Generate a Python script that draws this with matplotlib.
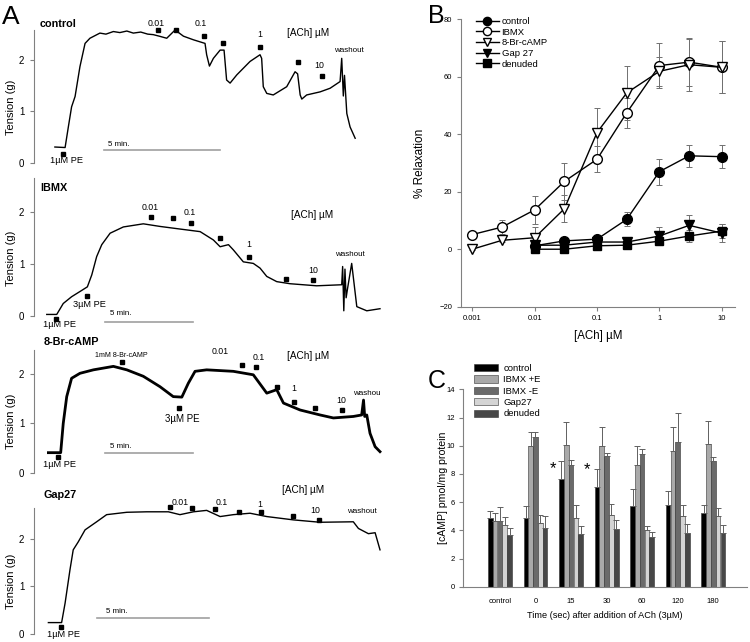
import matplotlib.pyplot as plt
import numpy as np

plt.rcParams['font.family'] = ['Liberation Sans', 'DejaVu Sans']

# ---------------- panel A: tension traces (time in min, tension in g)
ctrl_t = [0.9, 1.34, 1.48, 1.62, 1.77, 1.98, 2.2, 2.41, 2.84, 3.1, 3.42, 3.7, 4.0, 4.28, 4.6, 4.9,
          5.14, 5.4, 5.72, 6.08, 6.44, 6.87, 7.37, 7.44, 7.56, 7.73, 8.02, 8.19, 8.30, 8.45, 8.74,
          9.31, 9.74, 9.81, 9.88, 10.03, 10.31, 10.89, 11.25, 11.36, 11.47, 11.54, 11.75, 12.33,
          12.76, 13.19, 13.26, 13.33, 13.38, 13.48, 13.62, 13.84]
ctrl_g = [0.31, 0.30, 0.70, 1.09, 1.29, 1.87, 2.32, 2.42, 2.52, 2.50, 2.55, 2.53, 2.56, 2.52, 2.54, 2.50,
          2.49, 2.46, 2.42, 2.58, 2.46, 2.39, 2.32, 2.10, 1.88, 2.03, 2.19, 2.19, 1.61, 1.55, 1.71,
          1.97, 2.10, 2.03, 1.48, 1.35, 1.32, 1.48, 1.77, 1.73, 1.32, 1.24, 1.32, 1.38,
          1.45, 1.58, 2.03, 1.30, 1.70, 0.96, 0.70, 0.48]
ctrl_ach_t = [5.33, 6.12, 7.33, 8.16, 9.75, 11.37, 12.43]
ctrl_ach_g = [2.58, 2.58, 2.47, 2.32, 2.25, 1.95, 1.68]
ctrl_pe_t = [1.26]
ctrl_pe_g = [0.17]

ibmx_t = [0.55, 0.98, 1.26, 1.62, 1.98, 2.30, 2.49, 2.70, 2.92, 3.28, 3.85, 4.71, 5.43, 6.29, 7.16,
          7.73, 8.02, 8.38, 8.59, 9.02, 9.45, 9.74, 10.03, 10.46, 11.03, 12.18, 13.26, 13.30, 13.35,
          13.40, 13.45, 13.52, 13.69, 13.91, 14.34, 14.91]
ibmx_g = [0.03, 0.03, 0.24, 0.37, 0.47, 0.56, 0.79, 1.14, 1.37, 1.59, 1.71, 1.77, 1.72, 1.67, 1.62,
          1.46, 1.33, 1.37, 1.27, 1.04, 1.01, 0.92, 0.76, 0.66, 0.62, 0.58, 0.60, 0.95, 0.10,
          0.90, 0.35, 0.55, 1.01, 0.18, 0.10, 0.14]
ibmx_ach_t = [5.03, 5.98, 6.77, 8.02, 9.28, 10.86, 12.04]
ibmx_ach_g = [1.90, 1.88, 1.78, 1.49, 1.14, 0.71, 0.69]
ibmx_pe_t = [0.95, 2.27]
ibmx_pe_g = [-0.06, 0.39]

br_t = [0.62, 1.15, 1.26, 1.41, 1.62, 1.98, 2.56, 3.42, 4.00, 4.71, 5.43, 6.00, 6.37, 6.65, 6.94,
        7.44, 8.59, 9.45, 9.67, 10.03, 10.46, 10.75, 11.47, 12.33, 12.90, 13.76, 14.12, 14.20,
        14.25, 14.34, 14.48, 14.70, 14.91]
br_g = [0.41, 0.41, 1.00, 1.54, 1.91, 2.01, 2.08, 2.15, 2.08, 1.95, 1.74, 1.54, 1.53, 1.81, 2.05,
        2.08, 2.05, 1.98, 1.84, 1.61, 1.68, 1.41, 1.27, 1.17, 1.11, 1.14, 1.17, 1.47,
        1.14, 1.17, 0.80, 0.53, 0.43]
br_ach_t = [8.95, 9.55, 10.46, 11.22, 12.11, 13.26]
br_ach_g = [2.18, 2.14, 1.74, 1.44, 1.31, 1.27]
br_pe_t = [1.05, 3.78, 6.25]
br_pe_g = [0.33, 2.23, 1.32]

gap_t = [0.62, 1.19, 1.34, 1.55, 1.69, 1.91, 2.20, 2.70, 3.13, 4.00, 4.86, 5.79, 6.29, 6.87, 7.44,
         8.02, 8.59, 9.31, 10.03, 11.18, 12.33, 13.76, 13.98, 14.41, 14.70, 14.91]
gap_g = [0.24, 0.24, 0.65, 1.35, 1.77, 1.94, 2.19, 2.36, 2.51, 2.56, 2.57, 2.57, 2.51, 2.57, 2.60,
         2.47, 2.51, 2.54, 2.47, 2.40, 2.35, 2.36, 2.22, 2.11, 2.13, 1.77]
gap_ach_t = [5.86, 6.80, 7.80, 8.84, 9.78, 11.15, 12.26]
gap_ach_g = [2.68, 2.65, 2.63, 2.56, 2.56, 2.48, 2.40]
gap_pe_t = [1.15]
gap_pe_g = [0.15]

# ---------------- panel B: concentration-response
conc = [0.001, 0.003, 0.01, 0.03, 0.1, 0.3, 1, 3, 10]
conc_short = conc[2:]
ctrl_relax = [1.2, 2.9, 3.5, 10.4, 27.0, 32.5, 32.2]
ctrl_err = [0.8, 0.8, 1.0, 2.4, 4.5, 3.9, 4.0]
ibmx_relax = [5.1, 7.7, 13.7, 23.6, 31.3, 47.5, 63.9, 65.1, 63.3]
ibmx_err = [0.5, 2.5, 4.9, 6.5, 4.6, 5.2, 7.8, 8.2, 9.0]
br_relax = [0.0, 3.1, 4.0, 14.1, 40.6, 54.4, 61.9, 64.2, 63.3]
br_err = [0.3, 0.5, 3.7, 4.6, 8.5, 9.5, 5.0, 9.2, 9.0]
gap_relax = [1.4, 1.4, 2.5, 2.5, 4.6, 8.3, 5.6]
gap_err = [0.6, 0.5, 0.8, 1.0, 3.0, 3.5, 3.2]
den_relax = [0.0, 0.0, 1.2, 1.4, 2.8, 4.6, 6.3]
den_err = [0.4, 0.4, 0.6, 0.7, 1.0, 2.0, 2.5]

# ---------------- panel C: cAMP content
times = ['control', '0', '15', '30', '60', '120', '180']
camp_ctrl = [4.9, 4.9, 7.65, 7.1, 5.75, 5.8, 5.2]
camp_ctrl_err = [0.47, 0.8, 1.25, 1.25, 1.15, 1.0, 0.57]
camp_ibmx_e = [4.65, 10.0, 10.05, 9.95, 8.6, 9.65, 10.1]
camp_ibmx_e_err = [0.55, 1.0, 1.6, 1.37, 1.35, 1.7, 1.66]
camp_ibmx_ne = [4.65, 10.65, 8.65, 9.25, 9.4, 10.25, 8.95]
camp_ibmx_ne_err = [1.0, 0.3, 0.35, 0.26, 0.4, 2.1, 0.28]
camp_gap = [4.35, 4.55, 4.85, 5.05, 4.05, 5.0, 5.0]
camp_gap_err = [0.6, 0.55, 0.92, 0.78, 0.26, 0.76, 0.6]
camp_den = [3.7, 4.15, 3.75, 4.1, 3.55, 3.8, 3.8]
camp_den_err = [0.43, 0.83, 0.57, 0.66, 0.3, 0.67, 0.55]

W, H = 750., 642.
GRAY = '#808080'
fig = plt.figure(figsize=(7.5, 6.42), dpi=100)


def px_axes(x0, y0, x1, y1):
    return fig.add_axes([x0 / W, 1 - y1 / H, (x1 - x0) / W, (y1 - y0) / H])


def trace_panel(y0, y1, top, t, g, lw, ach_t, ach_g, pe_t, pe_g, bar, texts, title, tpos):
    ax = px_axes(34, y0, 380, y1)
    ax.set_xlim(0, 14.91)
    ax.set_ylim(0, top)
    ax.plot(t, g, color='black', lw=lw, clip_on=False)
    ax.plot(ach_t, ach_g, 's', color='black', ms=2.8, clip_on=False)
    ax.plot(pe_t, pe_g, 's', color='black', ms=2.8, clip_on=False)
    ax.plot(bar[:2], [bar[2]] * 2, color='#a0a0a0', lw=1.2, clip_on=False)
    for s, x, y, size, ha, clip in texts:
        ax.text(x, y, s, fontsize=size, ha=ha, va='center', clip_on=clip)
    ax.text(tpos[0], tpos[1], title, fontsize=7.8, fontweight='bold', ha='left', va='center')
    for sp in ['top', 'right', 'bottom']:
        ax.spines[sp].set_visible(False)
    ax.spines['left'].set_color(GRAY)
    ax.spines['left'].set_linewidth(0.8)
    ax.set_xticks([])
    ax.set_yticks([0, 1, 2])
    ax.tick_params(axis='y', length=3, width=0.8, color=GRAY, labelsize=7, pad=4)
    ax.set_ylabel('Tension (g)', fontsize=8)
    ax.yaxis.set_label_coords(-0.052, 0.42)
    return ax


num = 6.3
trace_panel(30, 163, 2.58, ctrl_t, ctrl_g, 1.0, ctrl_ach_t, ctrl_ach_g, ctrl_pe_t, ctrl_pe_g,
            (3.02, 8.02, 0.25),
            [('0.01', 5.26, 2.71, num, 'center', False), ('0.1', 7.20, 2.71, num, 'center', False),
             ('1', 9.71, 2.50, num, 'center', False), ('10', 12.30, 1.89, num, 'center', False),
             ('[ACh] µM', 11.81, 2.52, 7.2, 'center', False), ('washout', 13.55, 2.19, 5.8, 'center', False),
             ('1µM PE', 1.41, 0.04, 6.7, 'center', False), ('5 min.', 3.19, 0.35, 5.7, 'left', False)],
            'control', (0.26, 2.70))
trace_panel(178, 316, 2.65, ibmx_t, ibmx_g, 1.0, ibmx_ach_t, ibmx_ach_g, ibmx_pe_t, ibmx_pe_g,
            (3.06, 6.85, -0.11),
            [('0.01', 5.0, 2.09, num, 'center', False), ('0.1', 6.72, 1.99, num, 'center', False),
             ('1', 9.24, 1.38, num, 'center', False), ('10', 12.04, 0.88, num, 'center', False),
             ('[ACh] µM', 11.97, 1.93, 7.2, 'center', False), ('washout', 13.62, 1.19, 5.8, 'center', False),
             ('1µM PE', 1.12, -0.17, 6.7, 'center', False), ('3µM PE', 2.37, 0.23, 6.7, 'center', False),
             ('5 min.', 3.28, 0.04, 5.7, 'left', False)],
            'IBMX', (0.26, 2.46))
trace_panel(350, 473, 2.48, br_t, br_g, 2.0, br_ach_t, br_ach_g, br_pe_t, br_pe_g,
            (3.06, 6.87, 0.41),
            [('1mM 8-Br-cAMP', 3.78, 2.36, 5.1, 'center', False), ('3µM PE', 6.37, 1.09, 7.0, 'center', False),
             ('0.01', 8.02, 2.45, num, 'center', False), ('0.1', 9.67, 2.32, num, 'center', False),
             ('1', 11.18, 1.70, num, 'center', False), ('10', 13.22, 1.47, num, 'center', False),
             ('[ACh] µM', 11.82, 2.35, 7.2, 'center', False), ('washout', 13.75, 1.61, 5.8, 'left', True),
             ('1µM PE', 1.12, 0.18, 6.7, 'center', False), ('5 min.', 3.28, 0.53, 5.7, 'left', False)],
            '8-Br-cAMP', (0.40, 2.65))
trace_panel(508, 634, 2.65, gap_t, gap_g, 1.0, gap_ach_t, gap_ach_g, gap_pe_t, gap_pe_g,
            (2.70, 7.55, 0.33),
            [('0.01', 5.95, 2.76, num, 'left', False), ('0.1', 8.09, 2.77, num, 'center', False),
             ('1', 9.74, 2.72, num, 'center', False), ('10', 12.11, 2.59, num, 'center', False),
             ('[ACh] µM', 11.61, 3.02, 7.2, 'center', False), ('washout', 14.12, 2.57, 5.8, 'center', False),
             ('1µM PE', 1.26, -0.01, 6.7, 'center', False), ('5 min.', 3.10, 0.47, 5.7, 'left', False)],
            'Gap27', (0.43, 2.93))

# ---------------- panel B
axb = px_axes(460.7, 19.3, 735, 306.7)
axb.set_xscale('log')
axb.set_xlim(0.000652, 16.3)
axb.set_ylim(-20, 80)
ekw = dict(fmt='none', ecolor='#707070', elinewidth=0.7, capsize=2, capthick=0.7)
axb.errorbar(conc, ibmx_relax, yerr=ibmx_err, **ekw)
axb.errorbar(conc, br_relax, yerr=br_err, **ekw)
axb.errorbar(conc_short, ctrl_relax, yerr=ctrl_err, **ekw)
axb.errorbar(conc_short, gap_relax, yerr=gap_err, **ekw)
axb.errorbar(conc_short, den_relax, yerr=den_err, **ekw)
lkw = dict(color='black', lw=1.0, mec='black', clip_on=False)
axb.plot(conc_short, ctrl_relax, marker='o', ms=7, mfc='black', label='control', **lkw)
axb.plot(conc, ibmx_relax, marker='o', ms=7, mfc='white', label='IBMX', **lkw)
axb.plot(conc, br_relax, marker='v', ms=7, mfc='white', label='8-Br-cAMP', **lkw)
axb.plot(conc_short, gap_relax, marker='v', ms=7, mfc='black', label='Gap 27', **lkw)
axb.plot(conc_short, den_relax, marker='s', ms=6, mfc='black', label='denuded', **lkw)
axb.set_yticks([-20, 0, 20, 40, 60, 80])
axb.set_xticks([0.001, 0.01, 0.1, 1, 10])
axb.set_xticklabels(['0.001', '0.01', '0.1', '1', '10'])
axb.minorticks_off()
for sp in ['top', 'right']:
    axb.spines[sp].set_visible(False)
for sp in ['left', 'bottom']:
    axb.spines[sp].set_color(GRAY)
    axb.spines[sp].set_linewidth(0.8)
axb.tick_params(length=3, width=0.8, color=GRAY, labelsize=5.5, pad=3)
axb.set_xlabel('[ACh] µM', fontsize=8.3)
axb.xaxis.set_label_coords(0.5, -0.08)
axb.set_ylabel('% Relaxation', fontsize=8.5)
axb.yaxis.set_label_coords(-0.128, 0.5)
axb.legend(loc='upper left', bbox_to_anchor=(476 / W, 1 - 17 / H), bbox_transform=fig.transFigure,
           frameon=False, fontsize=6.8, handlelength=2.4, handletextpad=0.3, labelspacing=0.18,
           borderpad=0, borderaxespad=0, markerscale=0.85)

# ---------------- panel C
axc = px_axes(463.3, 389.3, 746.7, 586.7)
axc.set_xlim(-1.03, 6.94)
axc.set_ylim(0, 14)
x = np.arange(len(times))
series = [(camp_ctrl, camp_ctrl_err, '#000000', 'control'),
          (camp_ibmx_e, camp_ibmx_e_err, '#a9a9a9', 'IBMX +E'),
          (camp_ibmx_ne, camp_ibmx_ne_err, '#6a6a6a', 'IBMX -E'),
          (camp_gap, camp_gap_err, '#d4d4d4', 'Gap27'),
          (camp_den, camp_den_err, '#474747', 'denuded')]
for i, (vals, err, col, lab) in enumerate(series):
    xi = x + (i - 2) * 0.135
    axc.bar(xi, vals, width=0.13, color=col, edgecolor='#333333', linewidth=0.4, label=lab)
    axc.errorbar(xi, vals, yerr=[np.zeros(len(err)), err], fmt='none', ecolor='#606060',
                 elinewidth=0.7, capsize=2, capthick=0.7)
axc.text(1.48, 8.4, '*', fontsize=12, ha='center', va='center')
axc.text(2.44, 8.3, '*', fontsize=12, ha='center', va='center')
axc.set_xticks(x)
axc.set_xticklabels(times)
axc.set_yticks(range(0, 15, 2))
for sp in ['top', 'right']:
    axc.spines[sp].set_visible(False)
for sp in ['left', 'bottom']:
    axc.spines[sp].set_color(GRAY)
    axc.spines[sp].set_linewidth(0.8)
axc.tick_params(axis='y', length=3, width=0.8, color=GRAY, labelsize=5.5, pad=3)
axc.tick_params(axis='x', length=0, labelsize=5.5, pad=8)
axc.set_xlabel('Time (sec) after addition of ACh (3µM)', fontsize=6.6)
axc.xaxis.set_label_coords(0.5, -0.125)
axc.set_ylabel('[cAMP] pmol/mg protein', fontsize=7.6)
axc.yaxis.set_label_coords(-0.055, 0.5)
axc.legend(loc='upper left', bbox_to_anchor=(474 / W, 1 - 364 / H), bbox_transform=fig.transFigure,
           frameon=False, fontsize=6.8, handlelength=2.5, handleheight=0.8, handletextpad=0.6,
           labelspacing=0.25, borderpad=0, borderaxespad=0)

# panel letters
fig.text(11 / W, 1 - 17 / H, 'A', fontsize=19, ha='center', va='center')
fig.text(436 / W, 1 - 16 / H, 'B', fontsize=18, ha='center', va='center')
fig.text(437 / W, 1 - 381 / H, 'C', fontsize=18, ha='center', va='center')

fig.savefig('out.png', dpi=100)
